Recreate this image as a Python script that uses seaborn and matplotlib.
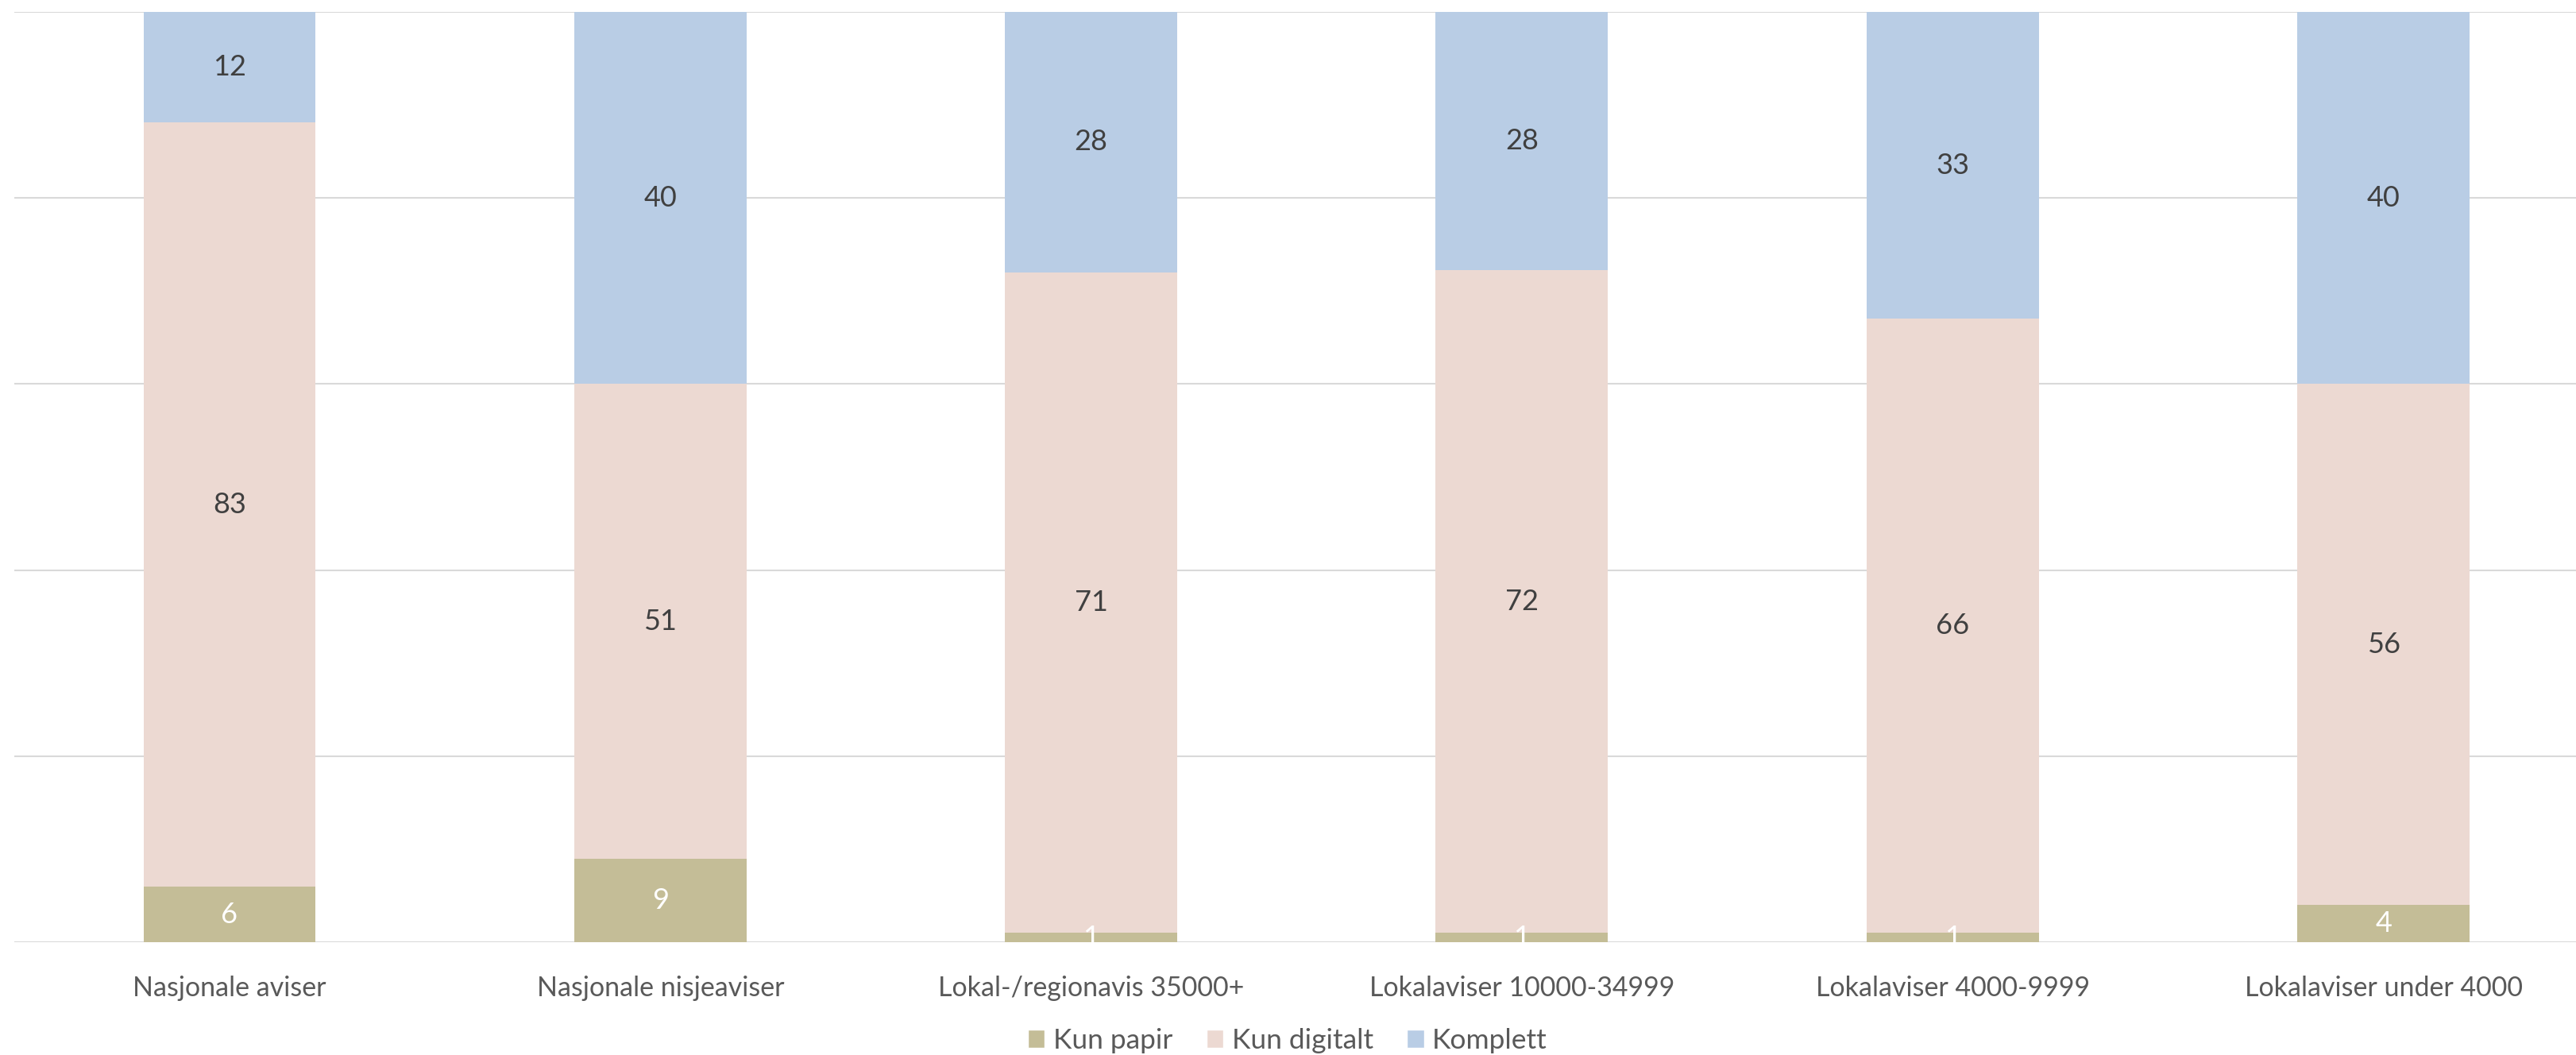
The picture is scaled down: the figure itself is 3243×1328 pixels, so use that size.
import numpy as np
import pandas as pd
import seaborn as sns
import matplotlib.pyplot as plt
from matplotlib.patches import Patch

# data (percent, 100 % stacked)
categories = ["Nasjonale aviser", "Nasjonale nisjeaviser", "Lokal-/regionavis 35000+",
              "Lokalaviser 10000-34999", "Lokalaviser 4000-9999", "Lokalaviser under 4000"]
kun_papir = [6, 9, 1, 1, 1, 4]
kun_digitalt = [83, 51, 71, 72, 66, 56]
komplett = [12, 40, 28, 28, 33, 40]

series_names = ["Kun papir", "Kun digitalt", "Komplett"]
colors = ["#C4BD97", "#ECD9D2", "#B9CDE5"]
label_colors = ["white", "#404040", "#404040"]

df = pd.DataFrame({"kategori": categories, "Kun papir": kun_papir,
                   "Kun digitalt": kun_digitalt, "Komplett": komplett})
# Excel's 100% stacked: normalise each column to its total
totals = df[series_names].sum(axis=1)
share = df[series_names].div(totals, axis=0) * 100

sns.set_style("white")
plt.rcParams["font.family"] = ["Lato", "DejaVu Sans"]

fig = plt.figure(figsize=(32.43, 13.28), dpi=100)
ax = fig.add_axes([17.8 / 3243, 1 - 1186 / 1328, 3254 / 3243, (1186 - 15) / 1328])

bottom = np.zeros(len(categories))
for name, col, lcol in zip(series_names, colors, label_colors):
    sns.barplot(x=df["kategori"], y=share[name], color=col, width=0.4,
                bottom=bottom, ax=ax, saturation=1, linewidth=0, zorder=3)
    # centred data labels
    for i, (v, b, s) in enumerate(zip(df[name], bottom, share[name])):
        ax.text(i, b + s / 2, str(v), ha="center", va="center",
                fontsize=26, color=lcol, zorder=4)
    bottom = bottom + share[name].values

ax.set_xlim(-0.5, 5.5)
ax.set_ylim(0, 100)
ax.set_yticks([0, 20, 40, 60, 80, 100])
ax.yaxis.grid(True, color="#D9D9D9", linewidth=1.5, zorder=0)
ax.set_yticklabels([])
ax.tick_params(axis="y", length=0)
ax.tick_params(axis="x", length=0, pad=30, labelsize=24.5, labelcolor="#595959")
ax.set_xlabel("")
ax.set_ylabel("")
for sp in ax.spines.values():
    sp.set_visible(False)

handles = [Patch(facecolor=c, label=n) for n, c in zip(series_names, colors)]
fig.legend(handles=handles, loc="center", bbox_to_anchor=(1621 / 3243, 1 - 1310 / 1328),
           ncol=3, frameon=False, fontsize=25.5, labelcolor="#595959",
           handlelength=0.6, handleheight=0.6, handletextpad=0.3, columnspacing=1.2)

fig.savefig("out.png", dpi=100)
